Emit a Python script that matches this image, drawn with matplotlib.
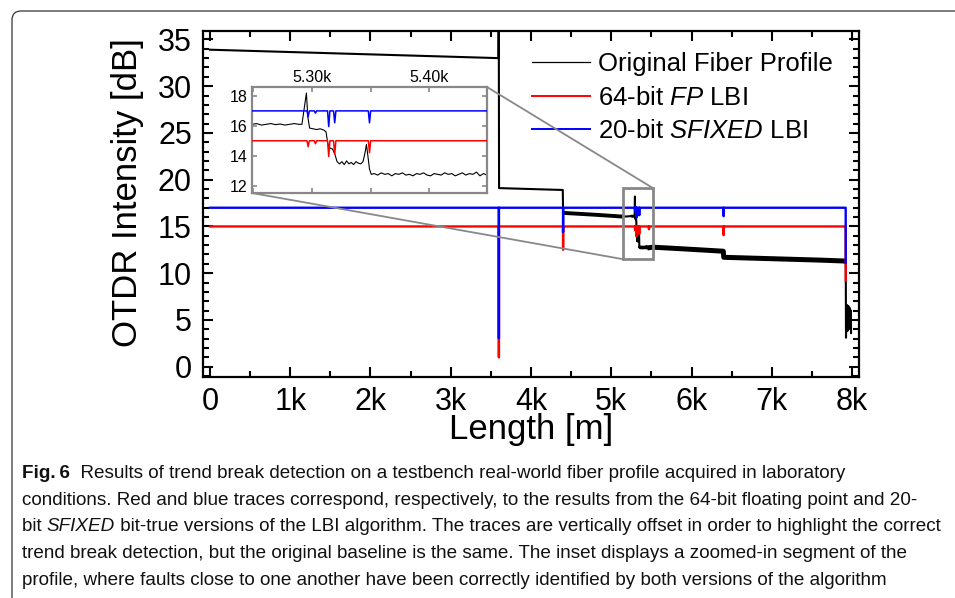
import matplotlib
matplotlib.use('Agg')
import matplotlib.pyplot as plt
import matplotlib.patches as mpatches
from matplotlib.patches import ConnectionPatch, FancyBboxPatch
from matplotlib.transforms import IdentityTransform
from matplotlib.ticker import MultipleLocator, FixedLocator
from matplotlib.lines import Line2D
from matplotlib.text import Annotation

plt.rcParams['font.family'] = ['Liberation Sans', 'DejaVu Sans']
plt.rcParams['mathtext.fontset'] = 'custom'
plt.rcParams['mathtext.rm'] = 'Liberation Sans'
plt.rcParams['mathtext.it'] = 'Liberation Sans:italic'

# ---------------- data ----------------
profile_x = [0, 600, 1200, 1800, 2400, 3000, 3594, 3598, 3602, 4000, 4396, 4400, 4800, 5150,
             5249, 5253, 5257, 5261, 5265, 5269, 5273, 5277, 5281, 5285, 5289, 5291.5, 5293.5,
             5295.3, 5296.5, 5298, 5301, 5304, 5307, 5310, 5312, 5313.5, 5315.5, 5317.5, 5319.5,
             5321.4, 5323.5, 5325.5, 5327.5, 5329.5, 5331.5, 5333.5, 5335.5, 5337.5, 5339.5,
             5341.5, 5343.5, 5345.2, 5346.4, 5347.6, 5349, 5350.5, 5353, 5356, 5359, 5362, 5365,
             5368, 5371, 5374, 5377, 5380, 5383, 5386, 5389, 5392, 5395, 5398, 5401, 5404, 5407,
             5410, 5413, 5416, 5419, 5422, 5425, 5428, 5431, 5434, 5437, 5440, 5443, 5446, 5449,
             5520, 5800, 6100, 6396, 6402, 6800, 7200, 7600, 7918, 7922, 7925, 7930, 7934, 7938,
             7942, 7946, 7950, 7954, 7958, 7962, 7966, 7970, 7974, 7978, 7982, 7986, 7988]
profile_y = [33.9, 33.75, 33.6, 33.45, 33.3, 33.15, 33.0, 40.0, 19.1, 19.0, 18.9, 16.45, 16.25, 16.05,
             16.1, 16.15, 16.05, 16.1, 16.15, 16.08, 16.12, 16.05, 16.1, 16.15, 16.1, 16.1, 17.2,
             18.2, 16.6, 15.85, 15.8, 15.75, 15.8, 15.72, 15.6, 14.8, 14.5, 14.45, 14.1,
             13.6, 13.45, 13.6, 13.4, 13.65, 13.45, 13.55, 13.4, 13.6, 13.5,
             13.45, 13.6, 14.2, 14.75, 14.0, 13.1, 12.75, 12.8, 12.7, 12.85, 12.75, 12.8,
             12.65, 12.8, 12.75, 12.85, 12.7, 12.75, 12.65, 12.8, 12.75, 12.85, 12.7, 12.65, 12.8, 12.75,
             12.7, 12.85, 12.75, 12.8, 12.65, 12.75, 12.85, 12.7, 12.8, 12.75, 12.9, 12.65, 12.8, 12.7,
             12.78, 12.65, 12.5, 12.35, 11.7, 11.6, 11.5, 11.4, 11.3, 11.0, 3.1, 6.4, 4.2, 6.6,
             3.8, 6.2, 4.5, 6.5, 4.0, 6.0, 4.6, 6.3, 4.3, 5.9, 4.8, 6.0, 3.6]

break_x = [3600, 4400, 5296.8, 5303, 5314.3, 5319.4, 5349, 5470, 6400, 7922]
red_depth = [14.0, 2.5, 0.4, 0.2, 1.05, 0.9, 0.8, 0.3, 0.93, 5.8]
blue_depth = [13.95, 2.6, 0.4, 0.15, 1.05, 0.8, 0.8, 0.0, 0.9, 5.9]
red_base = 15.0
blue_base = 17.0

x_ticks = [0, 1000, 2000, 3000, 4000, 5000, 6000, 7000, 8000]
x_tick_labels = ['0', '1k', '2k', '3k', '4k', '5k', '6k', '7k', '8k']
y_ticks = [0, 5, 10, 15, 20, 25, 30, 35]
inset_x_ticks = [5300, 5400]
inset_x_tick_labels = ['5.30k', '5.40k']
inset_x_minor = [5250, 5350, 5450]
inset_y_ticks = [12, 14, 16, 18]

legend_labels = ['Original Fiber Profile', '64-bit $\\mathit{FP}$ LBI',
                 '20-bit $\\mathit{SFIXED}$ LBI']

caption_lines = [
    [('Fig.\u20096', 'bold'), ('  Results of trend break detection on a testbench real-world fiber profile acquired in laboratory', 'normal')],
    [('conditions. Red and blue traces correspond, respectively, to the results from the 64-bit floating point and 20-', 'normal')],
    [('bit ', 'normal'), ('SFIXED', 'italic'), (' bit-true versions of the LBI algorithm. The traces are vertically offset in order to highlight the correct', 'normal')],
    [('trend break detection, but the original baseline is the same. The inset displays a zoomed-in segment of the', 'normal')],
    [('profile, where faults close to one another have been correctly identified by both versions of the algorithm', 'normal')],
]
caption_right_px = [873, 940, 946, 913, 927]


def lbi_trace(base, depths, halfw=1.0):
    xs, ys = [0.0], [base]
    for i, (bx, d) in enumerate(zip(break_x, depths)):
        if i == len(break_x) - 1:
            xs += [bx - halfw, bx]
            ys += [base, base - d]
        else:
            xs += [bx - halfw, bx, bx + halfw]
            ys += [base, base - d, base]
    return xs, ys


red_x, red_y = lbi_trace(red_base, red_depth)
blue_x, blue_y = lbi_trace(blue_base, blue_depth)

# ---------------- figure ----------------
W, H = 955, 598
fig = plt.figure(figsize=(W / 100, H / 100), dpi=100)


def fx(px):
    return px / W


def fy(py):
    return 1 - py / H


# rounded frame (top and left edges visible)
frame = FancyBboxPatch((12, -60), 1200, (H - 11) + 60,
                       boxstyle="round,pad=0,rounding_size=9",
                       transform=IdentityTransform(), fill=False,
                       ec='#333333', lw=0.9)
fig.add_artist(frame)

ax = fig.add_axes([fx(203), fy(377), (859 - 203) / W, (377 - 31) / H])
ax.plot(profile_x, profile_y, color='black', lw=1.5, zorder=2)
# noisier stretches of the trace appear as a thicker band
seg1 = [(x, y) for x, y in zip(profile_x, profile_y) if 4400 <= x <= 5150]
seg2 = [(x, y) for x, y in zip(profile_x, profile_y) if 5449 <= x <= 7918]
ax.plot([p[0] for p in seg1], [p[1] for p in seg1], color='black', lw=2.8, zorder=2,
        solid_capstyle='butt')
ax.plot([p[0] for p in seg2], [p[1] for p in seg2], color='black', lw=3.6, zorder=2,
        solid_capstyle='butt')
ax.plot(red_x, red_y, color='#ff0000', lw=1.7, zorder=3)
ax.plot(blue_x, blue_y, color='#0000ff', lw=1.7, zorder=4)

ax.set_xlim(-87, 8087)
ax.set_ylim(-1.1, 35.9)
ax.set_xticks(x_ticks)
ax.set_xticklabels(x_tick_labels)
ax.set_yticks(y_ticks)
ax.xaxis.set_minor_locator(MultipleLocator(500))
ax.yaxis.set_minor_locator(MultipleLocator(1))
ax.tick_params(which='both', direction='in', top=True, right=True, width=1.5,
               labelsize=22, color='black')
ax.tick_params(which='major', length=7.5)
ax.tick_params(axis='y', which='major', pad=8)
ax.tick_params(axis='x', which='major', pad=7)
ax.tick_params(which='minor', length=4)
for s in ax.spines.values():
    s.set_linewidth(1.6)

ax.set_xlabel('Length [m]', fontsize=25, va='center')
ax.xaxis.set_label_coords(0.5, ((H - 430) - (H - 377)) / (377 - 31))
ax.set_ylabel('OTDR Intensity [dB]', fontsize=25, va='center')
ax.yaxis.set_label_coords((127 - 203) / (859 - 203), ((H - 193) - (H - 377)) / (377 - 31))

# zoom rectangle
gray = '#888888'
rect = mpatches.Rectangle((5146, 11.5), 374, 7.6, fill=False, ec=gray, lw=2.0, zorder=6)
ax.add_patch(rect)

# inset
axin = fig.add_axes([fx(252), fy(193), 235 / W, 106 / H])
axin.plot(profile_x, profile_y, color='black', lw=0.8, zorder=2)
axin.plot(red_x, red_y, color='#ff0000', lw=1.1, zorder=3)
axin.plot(blue_x, blue_y, color='#0000ff', lw=1.1, zorder=4)
axin.set_xlim(5249, 5449)
axin.set_ylim(11.5, 18.6)
axin.set_xticks(inset_x_ticks)
axin.set_xticklabels(inset_x_tick_labels)
axin.xaxis.set_minor_locator(FixedLocator(inset_x_minor))
axin.set_yticks(inset_y_ticks)
axin.tick_params(which='both', direction='in', top=True, bottom=True, left=True, right=True,
                 labeltop=True, labelbottom=False, length=3.5, width=1.2, color=gray,
                 labelsize=11.5, labelcolor='black')
axin.tick_params(axis='x', pad=1.5)
axin.tick_params(axis='y', pad=3.5)
for s in axin.spines.values():
    s.set_linewidth(1.6)
    s.set_edgecolor(gray)

for a_xy, m_xy in [((1, 1), (5520, 19.1)), ((0, 0), (5146, 11.5))]:
    con = ConnectionPatch(xyA=a_xy, coordsA=axin.transAxes, xyB=m_xy, coordsB=ax.transData,
                          color=gray, lw=1.3, zorder=7)
    fig.add_artist(con)

# legend
handles = [Line2D([], [], color='black', lw=0.9),
           Line2D([], [], color='#ff0000', lw=1.4),
           Line2D([], [], color='#0000ff', lw=1.4)]
fig.legend(handles, legend_labels, loc='upper left', bbox_to_anchor=(fx(532), fy(52)),
           bbox_transform=fig.transFigure, borderaxespad=0, borderpad=0, frameon=False,
           fontsize=18.5, handlelength=2.26, handletextpad=0.3, labelspacing=0.37)

# caption
cap_family = ['Liberation Sans', 'DejaVu Sans']
cap_fs = 13.0
baselines = [478.0, 504.7, 531.4, 558.1, 584.8]
cap_artists = []
line_last = []
for li, (pieces, by) in enumerate(zip(caption_lines, baselines)):
    prev = None
    for txt, style in pieces:
        weight = 'bold' if style == 'bold' else 'normal'
        fstyle = 'italic' if style == 'italic' else 'normal'
        if prev is None:
            t = fig.text(fx(22), fy(by), txt, ha='left', va='baseline', fontsize=cap_fs,
                         family=cap_family, weight=weight, style=fstyle, color='#111111')
        else:
            t = Annotation(txt, xy=(1, 0), xycoords=prev, ha='left', va='bottom',
                           fontsize=cap_fs, family=cap_family, weight=weight, style=fstyle,
                           color='#111111')
            fig.add_artist(t)
        cap_artists.append(t)
        prev = t
    line_last.append(prev)

fig.canvas.draw()
r = fig.canvas.get_renderer()
scales = []
for t, right in zip(line_last, caption_right_px):
    ext = t.get_window_extent(r)
    scales.append((right - 22) / (ext.x1 - 22))
scale = min(scales)
for t in cap_artists:
    t.set_fontsize(cap_fs * scale)

fig.savefig('out.png', dpi=100)
